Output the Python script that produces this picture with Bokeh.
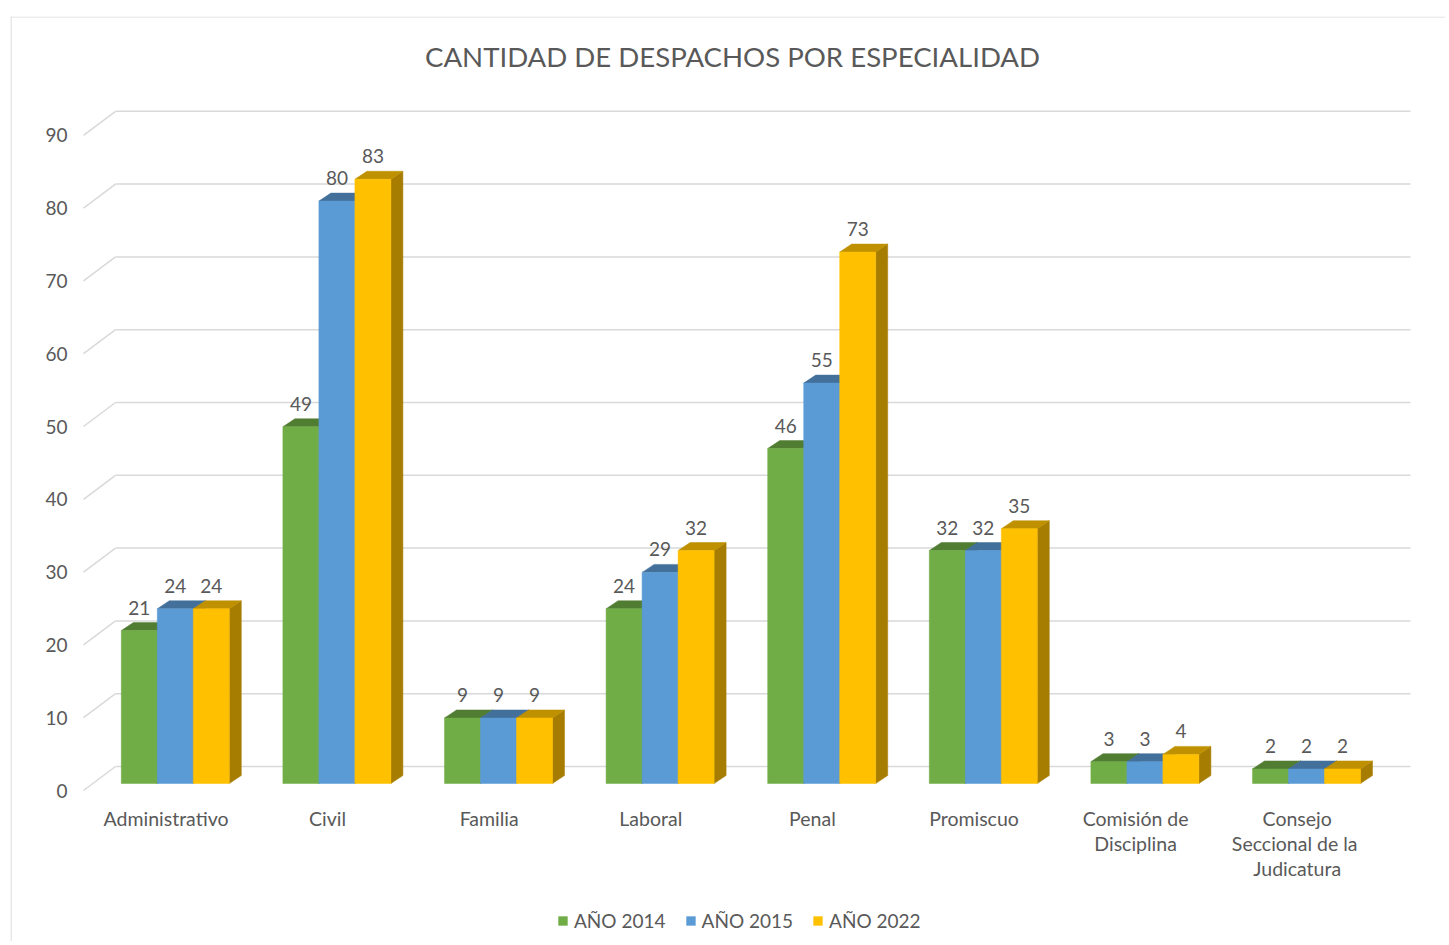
from bokeh.plotting import figure
from bokeh.models import Range1d, Label, Legend, LegendItem, Span, ColumnDataSource
from bokeh.core.properties import value
from bokeh.embed import file_html
from bokeh.resources import INLINE

# ---------------- data ----------------
categories = ["Administrativo", "Civil", "Familia", "Laboral", "Penal", "Promiscuo",
              "Comisión de\nDisciplina", "Consejo\nSeccional  de la\nJudicatura"]
series_names = ["AÑO 2014", "AÑO 2015", "AÑO 2022"]
y2014 = [21, 49, 9, 24, 46, 32, 3, 2]
y2015 = [24, 80, 9, 29, 55, 32, 3, 2]
y2022 = [24, 83, 9, 32, 73, 35, 4, 2]
y_ticks = [0, 10, 20, 30, 40, 50, 60, 70, 80, 90]
title_text = "CANTIDAD DE DESPACHOS POR ESPECIALIDAD"

# ---------------- style ----------------
FONT = "Lato"
TXT = "#595959"
GRID = "#d9d9d9"
front_cols = ["#70ad47", "#5b9bd5", "#ffc000"]
top_cols = ["#517d33", "#42709a", "#bf9000"]
side_cols = ["#46702c", "#3a6388", "#a67d00"]

PAGE = 0
W, H = 1445, 941
BL, BT = 10, 16
# pixel geometry (page coordinates) of the 3-D scene
CAT0_PX = 165.5      # front-floor centre of first category
CAT_STEP_PX = 161.6  # distance between categories
ZERO_PX = 790.0      # front-floor value 0
UNIT_PX = 7.28       # pixels per unit of value
FLOOR_D = (32.0, 24.0)   # depth of floor (dx right, dy up)
BAR_SHIFT = (9.3, 7.0)   # front face of bars behind floor front
BAR_SIDE = (12.0, 8.0)   # bar depth
BAR_W = 36.0
FLOOR_LEFT_PX = 83.0
GRID_RIGHT_PX = 1410.0


def xd(px):
    return (px - CAT0_PX) / CAT_STEP_PX


def yd(py):
    return (ZERO_PX - py) / UNIT_PX


def dxu(px):
    return px / CAT_STEP_PX


def dyu(px):
    return px / UNIT_PX


fl, ft = PAGE + BL, PAGE + BT
fr, fb = PAGE + W, PAGE + H

p = figure(width=W, height=H, min_border_left=BL, min_border_top=BT,
           min_border_right=0, min_border_bottom=0,
           x_range=Range1d(xd(fl), xd(fr)), y_range=Range1d(yd(fb), yd(ft)),
           x_axis_location=None, y_axis_location=None,
           output_backend="svg", toolbar_location=None)
p.grid.visible = False
p.outline_line_color = None
p.background_fill_color = "white"
p.border_fill_color = "white"

# chart border (left/top visible)
p.add_layout(Span(location=xd(fl + 0.5), dimension="height", line_color=GRID, line_width=1.2))
p.add_layout(Span(location=yd(ft + 0.5), dimension="width", line_color=GRID, line_width=1.2))

# grid lines on back wall + floor diagonals
x_front = xd(FLOOR_LEFT_PX)
x_back = x_front + dxu(FLOOR_D[0])
x_right = xd(GRID_RIGHT_PX)
fdy = dyu(FLOOR_D[1])
p.segment(x0=[x_front] * len(y_ticks), y0=y_ticks,
          x1=[x_back] * len(y_ticks), y1=[t + fdy for t in y_ticks],
          line_color=GRID, line_width=1.5)
p.segment(x0=[x_back] * len(y_ticks), y0=[t + fdy for t in y_ticks],
          x1=[x_right] * len(y_ticks), y1=[t + fdy for t in y_ticks],
          line_color=GRID, line_width=1.5)

# y tick labels
p.text(x=[xd(67)] * len(y_ticks), y=y_ticks, text=[str(t) for t in y_ticks],
       text_font=value(FONT), text_font_size="19px", text_color=TXT,
       text_align="right", text_baseline="middle")

# bars
bw = dxu(BAR_W)
sx, sy = dxu(BAR_SIDE[0]), dyu(BAR_SIDE[1])
shx, shy = dxu(BAR_SHIFT[0]), dyu(BAR_SHIFT[1])
legend_items = []
for k, vals in enumerate([y2014, y2015, y2022]):
    n = len(vals)
    centers = [i + shx + (k - 1) * bw for i in range(n)]
    lefts = [c - bw / 2 for c in centers]
    rights = [c + bw / 2 for c in centers]
    bottoms = [shy] * n
    tops = [v + shy for v in vals]
    # side faces
    p.patches(xs=[[r, r + sx, r + sx, r] for r in rights],
              ys=[[b, b + sy, t + sy, t] for b, t in zip(bottoms, tops)],
              fill_color=side_cols[k], line_color=side_cols[k], line_width=0.5)
    # top faces
    p.patches(xs=[[l, r, r + sx, l + sx] for l, r in zip(lefts, rights)],
              ys=[[t, t, t + sy, t + sy] for t in tops],
              fill_color=top_cols[k], line_color=top_cols[k], line_width=0.5)
    # front faces
    src = ColumnDataSource(dict(left=lefts, right=rights, bottom=bottoms, top=tops))
    r = p.quad(left="left", right="right", bottom="bottom", top="top", source=src,
               fill_color=front_cols[k], line_color=front_cols[k], line_width=0.5)
    legend_items.append(LegendItem(label=series_names[k], renderers=[r]))
    # value labels
    p.text(x=centers, y=tops, text=[str(v) for v in vals], y_offset=-23,
           text_font=value(FONT), text_font_size="19px", text_color=TXT,
           text_align="center", text_baseline="middle")

# category labels
p.text(x=list(range(len(categories))), y=[yd(806)] * len(categories), text=categories,
       text_font=value(FONT), text_font_size="19.5px", text_color=TXT,
       text_align="center", text_baseline="top", text_line_height=1.1)

# title
p.add_layout(Label(x=xd(732), y=yd(56), text=title_text, text_font=FONT,
                   text_font_size="27.6px", text_color=TXT,
                   text_align="center", text_baseline="middle"))

legend = Legend(items=legend_items, orientation="horizontal", location=(547, 9),
                glyph_width=11, glyph_height=11, label_standoff=6, spacing=19,
                padding=0, margin=0, border_line_color=None, background_fill_alpha=0,
                label_text_font=FONT, label_text_font_size="19px", label_text_color=TXT)
p.add_layout(legend)

open("out.html", "w").write(file_html(p, INLINE))
